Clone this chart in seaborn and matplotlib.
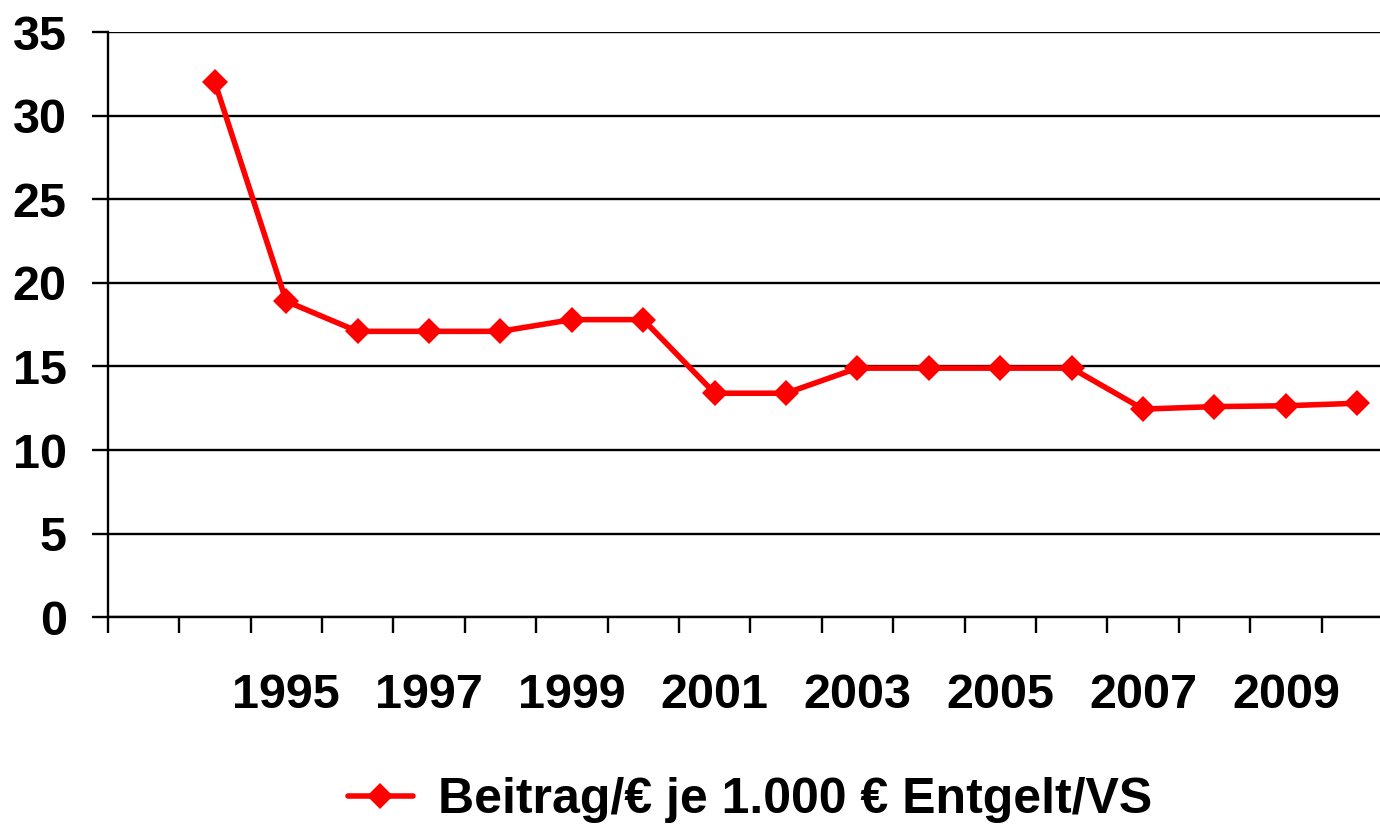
import numpy as np
import pandas as pd
import matplotlib
matplotlib.use("Agg")
import matplotlib.pyplot as plt
import seaborn as sns

# --------------------------------------------------
# DATA
# --------------------------------------------------

years = list(range(1993, 2011))
beitrag = [np.nan, 32.0, 18.9, 17.1, 17.1, 17.1, 17.8, 17.8, 13.4, 13.4,
           14.9, 14.9, 14.9, 14.9, 12.45, 12.6, 12.65, 12.8]
label_years = [1995, 1997, 1999, 2001, 2003, 2005, 2007, 2009]
y_ticks = [0, 5, 10, 15, 20, 25, 30, 35]
series_name = "Beitrag/€ je 1.000 € Entgelt/VS"

df = pd.DataFrame({"year": years, "value": beitrag})

# --------------------------------------------------
# STYLE
# --------------------------------------------------

sns.set_style("white")
plt.rcParams['font.family'] = ['Liberation Sans', 'DejaVu Sans']
plt.rcParams['font.weight'] = 'bold'
plt.rcParams['text.color'] = 'black'
plt.rcParams['xtick.color'] = 'black'
plt.rcParams['ytick.color'] = 'black'

fig = plt.figure(figsize=(13.8, 8.26), dpi=100)
ax = fig.add_axes([107.7 / 1380, 1 - 617.3 / 826, (1393 - 107.7) / 1380, (617.3 - 32) / 826])

ax.set_axisbelow(True)
for t in y_ticks:
    ax.axhline(t, color='black', lw=1.7, zorder=0)

sns.lineplot(data=df.dropna(), x="year", y="value", ax=ax, color='#ff0000',
             lw=4.0, marker='D', markersize=13.5, markeredgewidth=0,
             label=series_name, legend=False)

ax.set_xlim(years[0] - 0.5, years[-1] + 0.5)
ax.set_ylim(0, 35)

ax.set_yticks(y_ticks)
ax.set_yticklabels([str(t) for t in y_ticks], fontsize=35, fontweight='bold')
ax.tick_params(axis='y', length=11.5, width=1.7, color='black', pad=18, left=True)

ax.set_xticks(label_years)
ax.set_xticklabels([str(y) for y in label_years], fontsize=35, fontweight='bold')
ax.tick_params(axis='x', which='major', length=0, pad=40)
ax.set_xticks([y - 0.5 for y in years], minor=True)
ax.tick_params(axis='x', which='minor', length=11.5, width=1.7, color='black', bottom=True)

ax.set_xlabel("")
ax.set_ylabel("")
for side in ['top', 'right']:
    ax.spines[side].set_visible(False)
for side in ['left', 'bottom']:
    ax.spines[side].set_color('black')
    ax.spines[side].set_linewidth(1.7)

handles, labels = ax.get_legend_handles_labels()
fig.legend(handles, labels, loc='center', bbox_to_anchor=(750 / 1380, 1 - 800 / 826),
           frameon=False, prop={'size': 36, 'weight': 'bold'},
           handlelength=1.3, handletextpad=0.5)

fig.savefig("out.png", dpi=100)
